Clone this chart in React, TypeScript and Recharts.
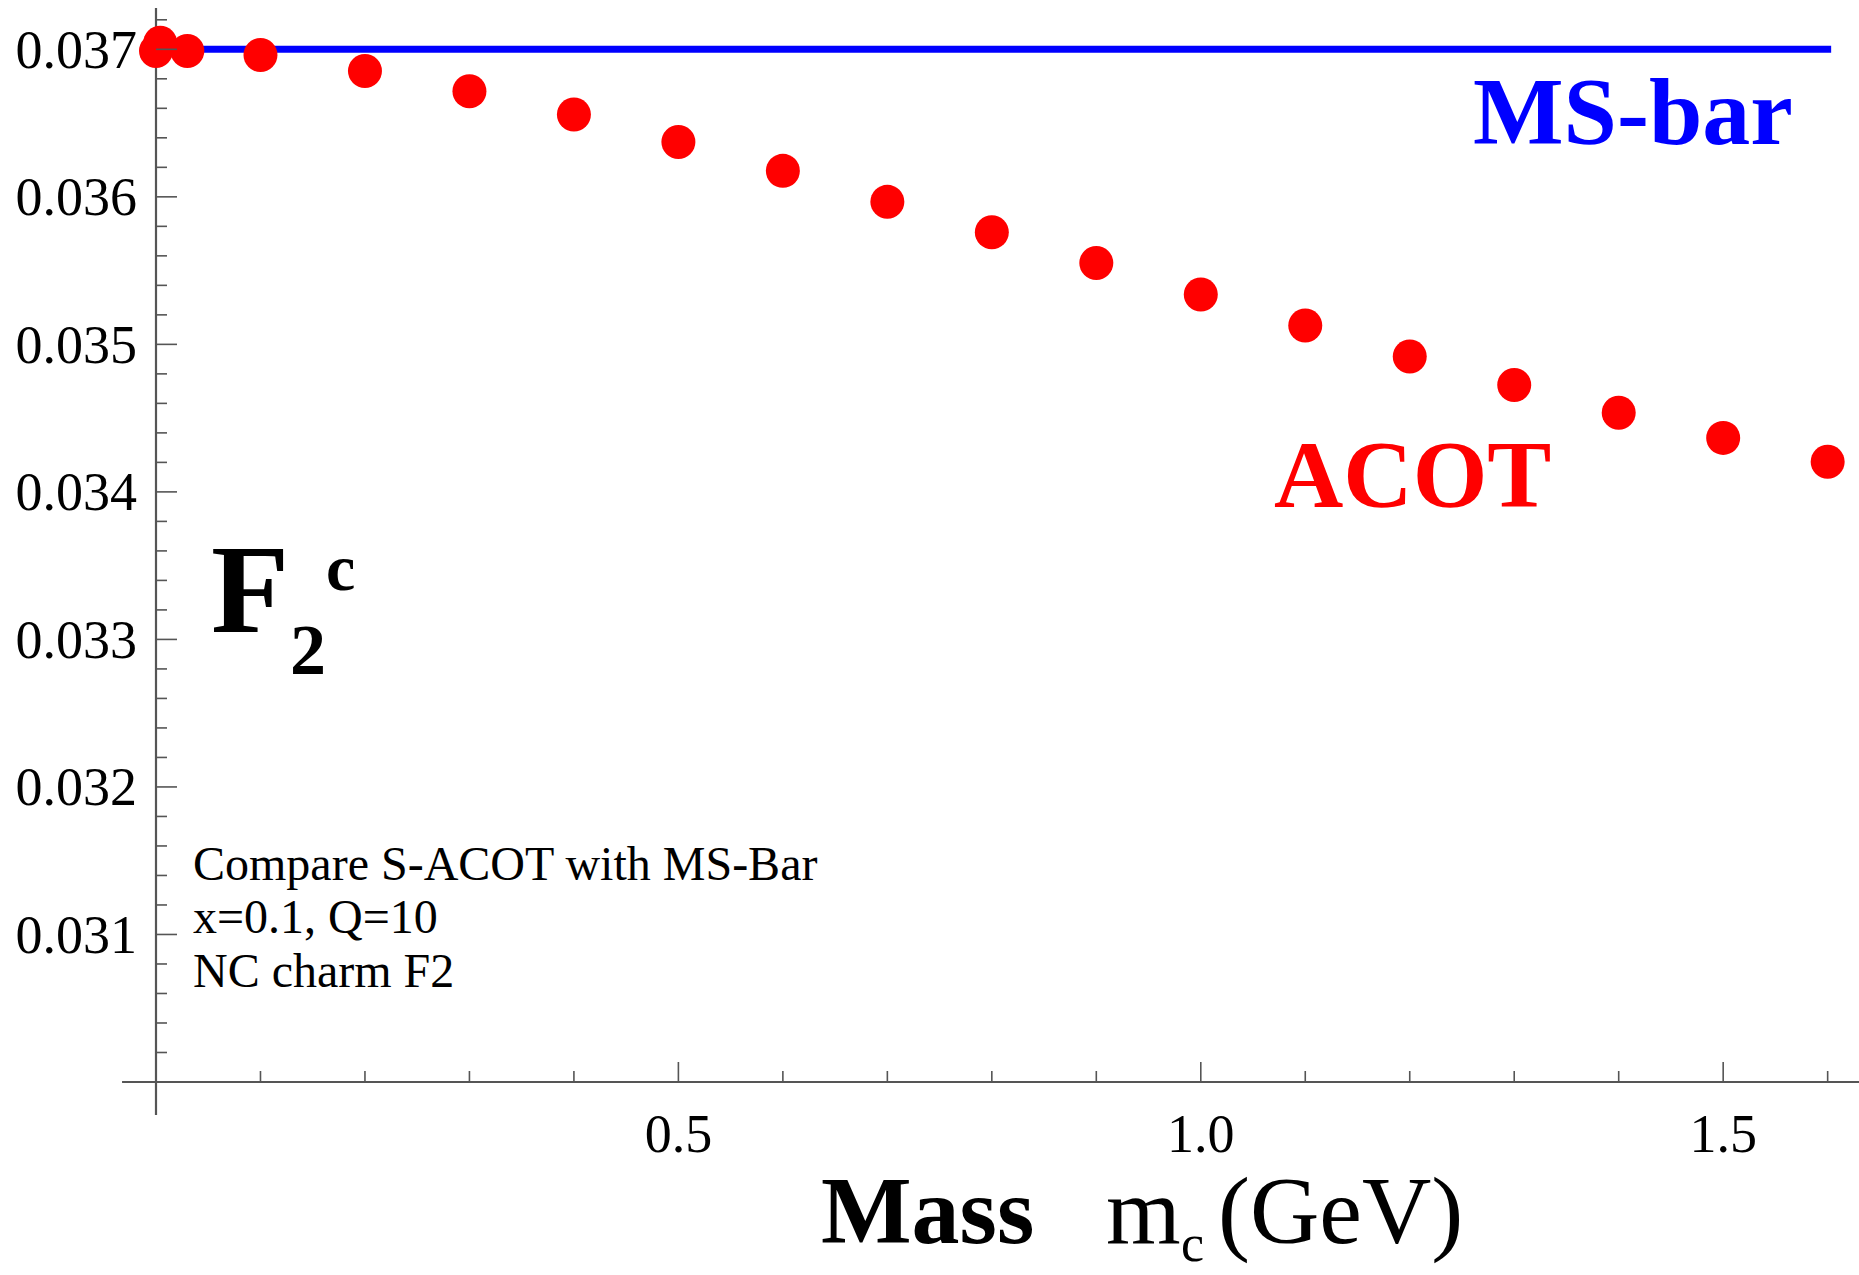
import React from "react";
import { ComposedChart, XAxis, YAxis, Line, Scatter, ReferenceLine } from "recharts";

// ACOT points (mass m_c in GeV, F2c)
const ACOT_X = [0, 0.004, 0.03, 0.1, 0.2, 0.3, 0.4, 0.5, 0.6, 0.7, 0.8, 0.9, 1.0, 1.1, 1.2, 1.3, 1.4, 1.5, 1.6];
const ACOT_Y = [
  0.036988, 0.037045, 0.036988, 0.036961, 0.036853, 0.036716, 0.036558, 0.036372, 0.036176, 0.035966,
  0.03576, 0.035552, 0.035338, 0.035128, 0.034918, 0.034725, 0.034536, 0.034366, 0.034204,
];

// MS-bar (constant)
const MSBAR_X = [0, 1.6];
const MSBAR_Y = [0.037, 0.037];

// Axis ticks
const X_TICKS = [0.1, 0.2, 0.3, 0.4, 0.5, 0.6, 0.7, 0.8, 0.9, 1.0, 1.1, 1.2, 1.3, 1.4, 1.5, 1.6];
const X_MAJOR = [0.5, 1.0, 1.5];
const X_LABELS = ["0.5", "1.0", "1.5"];

const Y_TICKS = [
  0.03, 0.0302, 0.0304, 0.0306, 0.0308, 0.031, 0.0312, 0.0314, 0.0316, 0.0318,
  0.032, 0.0322, 0.0324, 0.0326, 0.0328, 0.033, 0.0332, 0.0334, 0.0336, 0.0338,
  0.034, 0.0342, 0.0344, 0.0346, 0.0348, 0.035, 0.0352, 0.0354, 0.0356, 0.0358,
  0.036, 0.0362, 0.0364, 0.0366, 0.0368, 0.037, 0.0372,
];
const Y_MAJOR = [0.031, 0.032, 0.033, 0.034, 0.035, 0.036, 0.037];
const Y_LABELS = ["0.031", "0.032", "0.033", "0.034", "0.035", "0.036", "0.037"];

// Domains / axis extents
const X_DOMAIN: [number, number] = [0, 1.63];
const Y_DOMAIN: [number, number] = [0.03, 0.03728];
const X_AXIS_START = -0.0325;
const Y_AXIS_START = 0.029776;

const acotData = ACOT_X.map((x, i) => ({ x, y: ACOT_Y[i] }));
const msbarData = MSBAR_X.map((x, i) => ({ x, y: MSBAR_Y[i] }));

const SERIF = "'Liberation Serif', 'Times New Roman', serif";
const AXIS_COLOR = "#555555";

const findIdx = (arr: number[], v: number) => arr.findIndex((m) => Math.abs(m - v) < 1e-9);

const YTick = (props: any) => {
  const { x, y, payload } = props;
  const idx = findIdx(Y_MAJOR, payload.value);
  const major = idx >= 0 || Math.abs(payload.value - 0.03) < 1e-9;
  return (
    <g>
      <line x1={x} x2={x + (major ? 21 : 11)} y1={y} y2={y} stroke={AXIS_COLOR} strokeWidth={1.6} />
      {idx >= 0 && (
        <text x={x - 19} y={y} dy={18.5} textAnchor="end" fontFamily={SERIF} fontSize={54} fill="#000">
          {Y_LABELS[idx]}
        </text>
      )}
    </g>
  );
};

const XTick = (props: any) => {
  const { x, y, payload } = props;
  const idx = findIdx(X_MAJOR, payload.value);
  const major = idx >= 0;
  return (
    <g>
      <line x1={x} x2={x} y1={y} y2={y - (major ? 20 : 11)} stroke={AXIS_COLOR} strokeWidth={1.6} />
      {major && (
        <text x={x} y={y} dy={70} textAnchor="middle" fontFamily={SERIF} fontSize={54} fill="#000">
          {X_LABELS[idx]}
        </text>
      )}
    </g>
  );
};

const Dot = (props: any) => {
  const { cx, cy } = props;
  return <circle cx={cx} cy={cy} r={17} fill="#ff0000" />;
};

export default function App() {
  return (
    <div style={{ position: "absolute", left: 0, top: 0, width: 1859, height: 1275, background: "#fff" }}>
      <ComposedChart
        width={1859}
        height={1275}
        margin={{ top: 8, right: 0, bottom: 93, left: 6 }}
      >
        <XAxis
          type="number"
          dataKey="x"
          domain={X_DOMAIN}
          ticks={X_TICKS}
          interval={0}
          height={100}
          axisLine={false}
          tickLine={false}
          tickSize={0}
          tickMargin={0}
          tick={<XTick />}
        />
        <YAxis
          type="number"
          dataKey="y"
          domain={Y_DOMAIN}
          ticks={Y_TICKS}
          interval={0}
          width={150}
          axisLine={false}
          tickLine={false}
          tickSize={0}
          tickMargin={0}
          tick={<YTick />}
        />
        <Line
          data={msbarData}
          dataKey="y"
          type="linear"
          stroke="#0000ff"
          strokeWidth={7}
          strokeLinecap="square"
          dot={false}
          activeDot={false}
          isAnimationActive={false}
        />
        <Scatter data={acotData} dataKey="y" shape={<Dot />} isAnimationActive={false} />
        <ReferenceLine
          segment={[{ x: 0, y: Y_AXIS_START }, { x: 0, y: Y_DOMAIN[1] }]}
          stroke={AXIS_COLOR}
          strokeWidth={2.2}
          ifOverflow="visible"
        />
        <ReferenceLine
          segment={[{ x: X_AXIS_START, y: 0.03 }, { x: X_DOMAIN[1], y: 0.03 }]}
          stroke={AXIS_COLOR}
          strokeWidth={2.2}
          ifOverflow="visible"
        />
      </ComposedChart>
      <svg
        width={1859}
        height={1275}
        style={{ position: "absolute", left: 0, top: 0, pointerEvents: "none" }}
      >
        <text x={1473} y={144} fontFamily={SERIF} fontWeight="bold" fontSize={96} fill="#0000ff">
          MS-bar
        </text>
        <text x={1274} y={507} fontFamily={SERIF} fontWeight="bold" fontSize={96} fill="#ff0000">
          ACOT
        </text>
        <text x={211} y={632} fontFamily={SERIF} fontWeight="bold" fontSize={128} fill="#000">
          F
        </text>
        <text x={290} y={674} fontFamily={SERIF} fontWeight="bold" fontSize={72} fill="#000">
          2
        </text>
        <text x={326} y={590} fontFamily={SERIF} fontWeight="bold" fontSize={66} fill="#000">
          c
        </text>
        <text fontFamily={SERIF} fontSize={48} fill="#000">
          <tspan x={193} y={880}>Compare S-ACOT with MS-Bar</tspan>
          <tspan x={193} y={933}>x=0.1, Q=10</tspan>
          <tspan x={193} y={987}>NC charm F2</tspan>
        </text>
        <text x={821} y={1243} fontFamily={SERIF} fontWeight="bold" fontSize={96} fill="#000">
          Mass
        </text>
        <text x={1106} y={1243} fontFamily={SERIF} fontSize={96} fill="#000">
          m
        </text>
        <text x={1181} y={1261} fontFamily={SERIF} fontSize={52} fill="#000">
          c
        </text>
        <text x={1218} y={1243} fontFamily={SERIF} fontSize={96} fill="#000">
          (GeV)
        </text>
      </svg>
    </div>
  );
}
